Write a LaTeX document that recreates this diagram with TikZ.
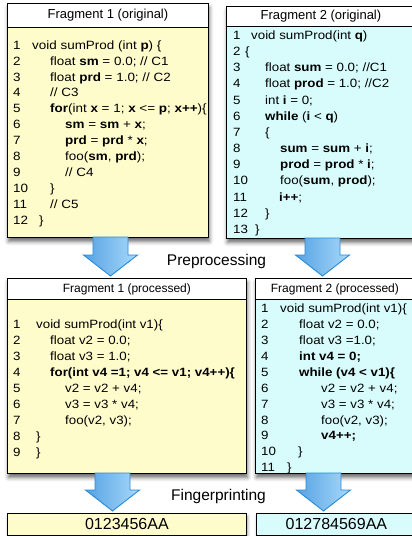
\documentclass[tikz,border=0pt]{standalone}
\usepackage{fontspec}
\setmainfont{Liberation Sans}
\newfontfamily\fA[FakeStretch=1.12]{Liberation Sans}
\newfontfamily\fB[FakeStretch=1.11]{Liberation Sans}
\usetikzlibrary{shadows.blur}
\definecolor{yel}{RGB}{255,252,204}
\definecolor{cya}{RGB}{216,252,252}
\definecolor{arrL}{RGB}{86,163,228}
\definecolor{arrR}{RGB}{168,216,249}
\definecolor{arrD}{RGB}{38,138,214}
\newcommand\codeln[6]{\node[num] (#1n#2) at (#3,#4) {#2}; \node[code] (#1c#2) at (#5,#4) {#6};}
\newcommand\blockarr[5]{%
  \coordinate (#1) at (#2,#3);
  \path[barrow] ($(#1)+(-17.5,0)$) -- ($(#1)+(17.5,0)$) -- ($(#1)+(17.5,#4-#3)$) -- ($(#1)+(27,#4-#3)$)
    -- ($(#1)+(0,#5-#3)$) -- ($(#1)+(-27,#4-#3)$) -- ($(#1)+(-17.5,#4-#3)$) -- cycle;}
\usetikzlibrary{calc}
\tikzset{
  codefont/.style={font=\fA\fontsize{12}{14}\selectfont},
  code/.style={anchor=base west, inner sep=0pt, codefont},
  num/.style={code},
  box/.style={draw=black, line width=0.8pt, anchor=north west, inner sep=0pt,
    blur shadow={shadow xshift=1pt, shadow yshift=-4pt, shadow blur radius=4pt, shadow opacity=60}},
  hdr/.style={draw=black, line width=0.8pt, fill=white, anchor=north west, inner sep=0pt},
  lbl/.style={fill=white, inner sep=0pt, minimum width=121pt, minimum height=24pt, anchor=base,
    font=\fontsize{15.5}{18}\selectfont},
  fp/.style={draw=black, line width=0.8pt, anchor=north west, inner sep=0pt, minimum height=22pt,
    font=\fontsize{16}{18}\selectfont,
    blur shadow={shadow xshift=1pt, shadow yshift=-3pt, shadow blur radius=3pt, shadow opacity=45}},
  barrow/.style={left color=arrL, right color=arrR, draw=arrD, line width=0.9pt, line join=miter}
}
\begin{document}
\begin{tikzpicture}[x=1pt,y=-1pt]
\useasboundingbox (0,0) rectangle (412,536);
% boxes
\node[box, fill=yel, minimum width=201pt, minimum height=234pt] (tl) at (7,3) {};
\node[hdr, minimum width=201pt, minimum height=24pt, font=\fontsize{13}{15}\selectfont] (tlh) at (7,3) {Fragment 1 (original)};
\node[box, fill=cya, minimum width=189pt, minimum height=232pt] (tr) at (226,6) {};
\node[hdr, minimum width=189pt, minimum height=20pt, font=\fontsize{13}{15}\selectfont] (trh) at (226,6) {Fragment 2 (original)};
\node[box, fill=yel, minimum width=239pt, minimum height=195pt] (pl) at (7,278) {};
\node[hdr, minimum width=239pt, minimum height=21pt, font=\fontsize{12}{14}\selectfont] (plh) at (7,278) {Fragment 1 (processed)};
\node[box, fill=cya, minimum width=159pt, minimum height=195pt] (pr) at (255,278) {};
\node[hdr, minimum width=159pt, minimum height=21pt, font=\fontsize{12}{14}\selectfont] (prh) at (255,278) {Fragment 2 (processed)};
\node[fp, fill=yel, minimum width=239pt] (bl) at (7,513) {0123456AA};
\node[fp, fill=cya, minimum width=160pt] (br) at (256,513) {012784569AA};
% labels
\node[lbl] (pre) at (216.5,265) {Preprocessing};
\node[lbl] (fin) at (218.5,500) {Fingerprinting};
% arrows
\blockarr{a1}{110.5}{237}{255}{276}
\blockarr{a2}{322.5}{238}{255}{276}
\blockarr{a3}{112.5}{473}{490}{511}
\blockarr{a4}{323.5}{473}{490}{511}
% Fragment 1 original
\codeln{tl}{1}{13}{49.3}{32}{void sumProd (int \textbf{p}) \{}
\codeln{tl}{2}{13}{65.2}{50}{float \textbf{sm} = 0.0; // C1}
\codeln{tl}{3}{13}{81.1}{50}{float \textbf{prd} = 1.0; // C2}
\codeln{tl}{4}{13}{96.9}{50}{// C3}
\codeln{tl}{5}{13}{112.8}{50}{\textbf{for}(int \textbf{x} = 1; \textbf{x} <= \textbf{p}; \textbf{x++})\{}
\codeln{tl}{6}{13}{128.7}{65}{\textbf{sm} = \textbf{sm} + \textbf{x};}
\codeln{tl}{7}{13}{144.6}{65}{\textbf{prd} = \textbf{prd} * \textbf{x};}
\codeln{tl}{8}{13}{160.5}{65}{foo(\textbf{sm}, \textbf{prd});}
\codeln{tl}{9}{13}{176.3}{65}{// C4}
\codeln{tl}{10}{13}{192.2}{50}{\}}
\codeln{tl}{11}{13}{208.1}{50}{// C5}
\codeln{tl}{12}{13}{224.0}{39}{\}}
% Fragment 2 original
\begin{scope}[codefont/.style={font=\fB\fontsize{12}{14}\selectfont}]
\codeln{tr}{1}{233}{39.3}{251}{void sumProd(int \textbf{q})}
\codeln{tr}{2}{233}{55.5}{245}{\{}
\codeln{tr}{3}{233}{71.6}{265}{float \textbf{sum} = 0.0; //C1}
\codeln{tr}{4}{233}{87.8}{265}{float \textbf{prod} = 1.0; //C2}
\codeln{tr}{5}{233}{104.0}{265}{int \textbf{i} = 0;}
\codeln{tr}{6}{233}{120.2}{265}{\textbf{while} (\textbf{i} < \textbf{q})}
\codeln{tr}{7}{233}{136.3}{265}{\{}
\codeln{tr}{8}{233}{152.5}{280}{\textbf{sum} = \textbf{sum} + \textbf{i};}
\codeln{tr}{9}{233}{168.7}{280}{\textbf{prod} = \textbf{prod} * \textbf{i};}
\codeln{tr}{10}{233}{184.8}{280}{foo(\textbf{sum}, \textbf{prod});}
\codeln{tr}{11}{233}{201.0}{279}{\textbf{i++};}
\codeln{tr}{12}{233}{217.2}{265}{\}}
\codeln{tr}{13}{233}{233.3}{255}{\}}
% Fragment 1 processed
\codeln{pl}{1}{13}{328}{36}{void sumProd(int v1)\{}
\codeln{pl}{2}{13}{344}{50}{float v2 = 0.0;}
\codeln{pl}{3}{13}{360}{50}{float v3 = 1.0;}
\codeln{pl}{4}{13}{376}{50}{\textbf{for(int v4 =1; v4 <= v1; v4++)\{}}
\codeln{pl}{5}{13}{392}{65}{v2 = v2 + v4;}
\codeln{pl}{6}{13}{408}{65}{v3 = v3 * v4;}
\codeln{pl}{7}{13}{424}{65}{foo(v2, v3);}
\codeln{pl}{8}{13}{440}{36}{\}}
\codeln{pl}{9}{13}{456}{36}{\}}
% Fragment 2 processed
\codeln{pr}{1}{261}{312.7}{280}{void sumProd(int v1)\{}
\codeln{pr}{2}{261}{328.6}{299}{float v2 = 0.0;}
\codeln{pr}{3}{261}{344.5}{299}{float v3 =1.0;}
\codeln{pr}{4}{261}{360.4}{299}{\textbf{int v4 = 0;}}
\codeln{pr}{5}{261}{376.3}{299}{\textbf{while (v4 < v1)\{}}
\codeln{pr}{6}{261}{392.2}{321}{v2 = v2 + v4;}
\codeln{pr}{7}{261}{408.1}{321}{v3 = v3 * v4;}
\codeln{pr}{8}{261}{424.0}{321}{foo(v2, v3);}
\codeln{pr}{9}{261}{439.9}{321}{\textbf{v4++;}}
\codeln{pr}{10}{261}{455.8}{298}{\}}
\codeln{pr}{11}{261}{471.7}{287}{\}}
\end{scope}
\end{tikzpicture}
\end{document}
